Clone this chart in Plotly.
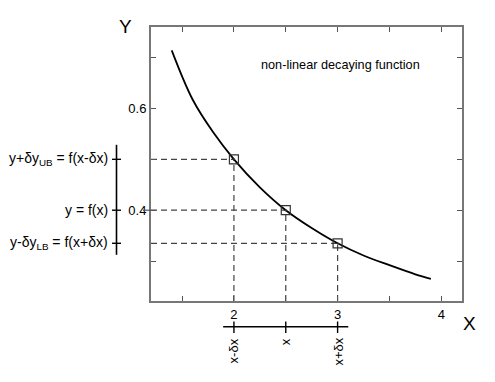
import plotly.graph_objects as go

# curve
curve_x = [1.4, 1.6, 1.8, 2.0, 2.25, 2.5, 2.75, 3.0, 3.25, 3.5, 3.75, 3.9]
curve_y = [0.714, 0.618, 0.553, 0.50, 0.445, 0.40, 0.365, 0.335, 0.311, 0.292, 0.274, 0.265]

# marked points: x-dx, x, x+dx
pt_x = [2.0, 2.5, 3.0]
pt_y = [0.50, 0.40, 0.335]

left_labels = ["y+δy<sub>UB</sub> = f(x-δx)", "y = f(x)", "y-δy<sub>LB</sub> = f(x+δx)"]
bottom_labels = ["x-δx", "x", "x+δx"]

x_tickvals = [2.0, 3.0, 4.0]
x_ticktext = ["2", "3", "4"]
x_minor_tickvals = [1.5, 2.5, 3.5]
y_tickvals = [0.4, 0.6]
y_ticktext = ["0.4", "0.6"]
y_minor_tickvals = [0.3, 0.5, 0.7]

X_RANGE = [1.2, 4.2]
Y_RANGE = [0.2216, 0.76]

FONT = "Arial, Liberation Sans, sans-serif"
DASH_COLOR = "#444444"

fig = go.Figure()

# dashed guides
for x, y in zip(pt_x, pt_y):
    fig.add_trace(go.Scatter(x=[X_RANGE[0], x], y=[y, y], mode="lines",
                             line=dict(color=DASH_COLOR, width=1.2, dash="6px,4px"),
                             hoverinfo="skip", showlegend=False))
    fig.add_trace(go.Scatter(x=[x, x], y=[Y_RANGE[0], y], mode="lines",
                             line=dict(color=DASH_COLOR, width=1.2, dash="6px,4px"),
                             hoverinfo="skip", showlegend=False))

fig.add_trace(go.Scatter(x=curve_x, y=curve_y, mode="lines",
                         line=dict(color="black", width=1.8, shape="spline", smoothing=1.0),
                         showlegend=False))

fig.add_trace(go.Scatter(x=pt_x, y=pt_y, mode="markers",
                         marker=dict(symbol="square-open-dot", size=9,
                                     color="#333333", line=dict(width=1.2, color="#333333")),
                         showlegend=False))

shapes = []
# outer vertical (y) scale on the left
shapes.append(dict(type="line", xref="paper", yref="y", xsizemode="pixel", xanchor=0,
                   x0=-34.5, x1=-34.5, y0=0.5285, y1=0.3124,
                   line=dict(color="black", width=1.6)))
for y in pt_y:
    shapes.append(dict(type="line", xref="paper", yref="y", xsizemode="pixel", xanchor=0,
                       x0=-39, x1=-30, y0=y, y1=y, line=dict(color="black", width=1.4)))
# small outer tick at 0.4 on the main axis
shapes.append(dict(type="line", xref="paper", yref="y", xsizemode="pixel", xanchor=0,
                   x0=-8, x1=0, y0=pt_y[1], y1=pt_y[1], line=dict(color="#555555", width=1.2)))
# outer horizontal (x) scale below
shapes.append(dict(type="line", xref="x", yref="paper", ysizemode="pixel", yanchor=0,
                   x0=1.896, x1=3.103, y0=-25.7, y1=-25.7,
                   line=dict(color="black", width=1.6)))
for x in pt_x:
    shapes.append(dict(type="line", xref="x", yref="paper", ysizemode="pixel", yanchor=0,
                       x0=x, x1=x, y0=-20.5, y1=-32, line=dict(color="black", width=1.4)))

annotations = []
for y, t in zip(pt_y, left_labels):
    annotations.append(dict(x=0, y=y, xref="paper", yref="y", text=t, showarrow=False,
                            xanchor="right", yanchor="middle", xshift=-41,
                            font=dict(family=FONT, size=14, color="black")))
for x, t in zip(pt_x, bottom_labels):
    annotations.append(dict(x=x, y=0, xref="x", yref="paper", text=t, showarrow=False,
                            textangle=-90, xanchor="center", yanchor="top", yshift=-35,
                            font=dict(family=FONT, size=13, color="black")))
annotations.append(dict(x=0, y=1, xref="paper", yref="paper", text="Y", showarrow=False,
                        xanchor="center", yanchor="middle", xshift=-26, yshift=1,
                        font=dict(family=FONT, size=19, color="black")))
annotations.append(dict(x=1, y=0, xref="paper", yref="paper", text="X", showarrow=False,
                        xanchor="center", yanchor="middle", xshift=7, yshift=-22,
                        font=dict(family=FONT, size=19, color="black")))
annotations.append(dict(x=0.61, y=0.86, xref="paper", yref="paper",
                        text="non-linear decaying function", showarrow=False,
                        xanchor="center", yanchor="middle",
                        font=dict(family=FONT, size=12.7, color="black")))

tick_style = dict(ticks="inside", ticklen=5, tickwidth=1.3, tickcolor="#555555")

fig.update_layout(
    width=495, height=382,
    margin=dict(l=151, r=33, t=27, b=81),
    paper_bgcolor="white", plot_bgcolor="white",
    font=dict(family=FONT, size=13, color="black"),
    shapes=shapes, annotations=annotations,
    xaxis=dict(range=X_RANGE, tickmode="array", tickvals=x_tickvals, ticktext=x_ticktext,
               minor=dict(tickmode="array", tickvals=x_minor_tickvals, showgrid=False, **tick_style),
               showline=True, linecolor="#777777", linewidth=2, mirror="ticks",
               showgrid=False, zeroline=False, tickfont=dict(size=13), **tick_style),
    yaxis=dict(range=Y_RANGE, tickmode="array", tickvals=y_tickvals, ticktext=y_ticktext,
               minor=dict(tickmode="array", tickvals=y_minor_tickvals, showgrid=False, **tick_style),
               showline=True, linecolor="#777777", linewidth=2, mirror="ticks",
               showgrid=False, zeroline=False, tickfont=dict(size=13), **tick_style),
)

fig.write_html("out.html", config={"displayModeBar": False},
               post_script="document.body.style.margin='0';")
